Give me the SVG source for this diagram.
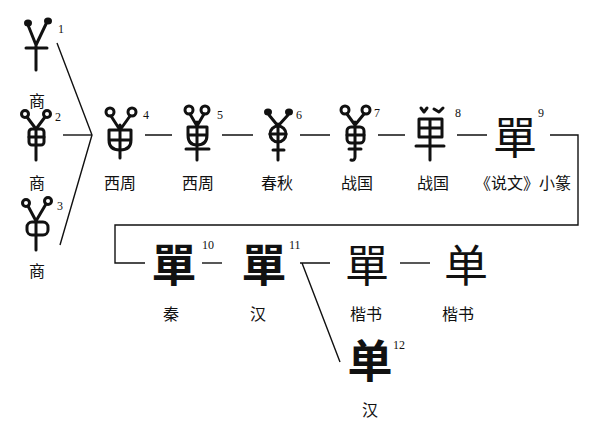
<svg xmlns="http://www.w3.org/2000/svg" width="600" height="428" viewBox="0 0 600 428">
<style>
.lbl{font-family:"Noto Sans CJK SC","Noto Sans CJK JP",sans-serif;font-size:16px;fill:#111;text-anchor:middle}
.num{font-family:"Liberation Serif",serif;font-size:12px;fill:#111}
.big{font-family:"Noto Sans CJK SC","Noto Sans CJK TC",sans-serif;font-size:45px;fill:#111;text-anchor:middle;font-weight:bold}
.big2{font-family:"Noto Sans CJK SC","Noto Sans CJK TC",sans-serif;font-size:44px;fill:#111;text-anchor:middle}
.g{fill:none;stroke:#111;stroke-width:3;stroke-linecap:round;stroke-linejoin:round}
.gf{fill:#111;stroke:none}
.c{fill:none;stroke:#111;stroke-width:1.4}
</style>
<rect width="600" height="428" fill="#fff"/>
<g id="connectors">
<path class="c" d="M57,43 L92,135 L60,245"/>
<path class="c" d="M63,135 H92"/>
<path class="c" d="M145,135 H172 M222,135 H253 M300,135 H330 M378,135 H405 M457,135 H487"/>
<path class="c" d="M550,135 H578 V225 H115 V263 H145"/>
<path class="c" d="M202,263 H222"/>
<path class="c" d="M300,263 H330 M302,263 L340,362"/>
<path class="c" d="M400,263 H430"/>
</g>
<g id="n1">
<ellipse class="gf" cx="28" cy="23" rx="4" ry="3.5"/>
<ellipse class="gf" cx="48" cy="21" rx="4" ry="3.5"/>
<path class="g" d="M28,25 L36,45 L46,24 M36,45 V70 M26,48 H47"/>
<text class="num" x="58" y="33">1</text>
<text class="lbl" x="37" y="107">商</text>
</g>
<g id="n2">
<circle class="g" stroke-width="2" cx="25" cy="114" r="3.5"/>
<circle class="g" stroke-width="2" cx="47" cy="114" r="3.5"/>
<path class="g" d="M27,117 L36,129 L45,117 M36,129 V160"/>
<rect class="g" x="29" y="129" width="15" height="16" rx="3"/>
<path class="g" d="M29,137 H44"/>
<text class="num" x="55" y="121">2</text>
<text class="lbl" x="37" y="189">商</text>
</g>
<g id="n3">
<circle class="g" stroke-width="2" cx="26" cy="203" r="3.5"/>
<circle class="g" stroke-width="2" cx="48" cy="201" r="3.5"/>
<path class="g" d="M28,206 L36,221 L46,204 M36,221 V250"/>
<rect class="g" x="27" y="222" width="21" height="13" rx="5"/>
<text class="num" x="57" y="210">3</text>
<text class="lbl" x="37" y="277">商</text>
</g>
<g id="n4">
<circle class="g" stroke-width="2.5" cx="110" cy="112" r="4"/>
<circle class="g" stroke-width="2.5" cx="132" cy="112" r="4"/>
<path class="g" d="M111,116 L120,130 L130,116 M120,125 V158"/>
<path class="g" d="M109,130 H131 V140 Q131,150 120,150 Q109,150 109,140 Z M109,140 H131"/>
<text class="num" x="143" y="119">4</text>
<text class="lbl" x="120" y="189">西周</text>
</g>
<g id="n5">
<circle class="g" stroke-width="2.5" cx="189" cy="110" r="4"/>
<circle class="g" stroke-width="2.5" cx="205" cy="110" r="4"/>
<path class="g" d="M190,114 L197,126 L204,114 M197,122 V160 M186,149 H209"/>
<path class="g" d="M188,127 H207 V135 Q207,145 197,145 Q188,145 188,135 Z M188,135 H207"/>
<text class="num" x="217" y="119">5</text>
<text class="lbl" x="198" y="189">西周</text>
</g>
<g id="n6">
<ellipse class="gf" cx="268" cy="112" rx="4" ry="3.5"/>
<ellipse class="gf" cx="289" cy="112" rx="4" ry="3.5"/>
<path class="g" d="M269,115 L278,126 L288,115 M278,124 V160 M273,150 H284"/>
<circle class="g" cx="278" cy="134" r="8"/>
<path class="g" d="M270,134 H286"/>
<text class="num" x="296" y="119">6</text>
<text class="lbl" x="277" y="189">春秋</text>
</g>
<g id="n7">
<circle class="g" stroke-width="2.5" cx="345" cy="110" r="4"/>
<circle class="g" stroke-width="2.5" cx="366" cy="110" r="4"/>
<path class="g" d="M347,114 L355,125 L364,114 M355,122 V157 Q355,161 351,160"/>
<rect class="g" x="347" y="127" width="17" height="16" rx="4"/>
<path class="g" d="M347,135 H364 M349,149 H361"/>
<text class="num" x="374" y="117">7</text>
<text class="lbl" x="357" y="189">战国</text>
</g>
<g id="n8">
<path class="g" stroke-width="2.5" d="M421,108 L424,112 M427,108 L424,112 M434,109 L439,112 L443,108"/>
<path class="g" d="M419,119 H442 V137 H419 Z M420,128 H441 M430,119 V160 M416,146 H444"/>
<text class="num" x="455" y="117">8</text>
<text class="lbl" x="433" y="189">战国</text>
</g>
<g id="n9">
<text class="big2" x="515" y="154">單</text>
<text class="num" x="538" y="117">9</text>
<text class="lbl" x="523" y="189">《说文》小篆</text>
</g>
<g id="n10">
<text class="big" x="174" y="282">單</text>
<text class="num" x="202" y="249">10</text>
<text class="lbl" x="171" y="320">秦</text>
</g>
<g id="n11">
<text class="big" x="264" y="282">單</text>
<text class="num" x="289" y="249">11</text>
<text class="lbl" x="258" y="320">汉</text>
</g>
<g id="n13">
<text class="big2" x="367" y="282">單</text>
<text class="lbl" x="366" y="320">楷书</text>
</g>
<g id="n14">
<text class="big2" x="466" y="282">单</text>
<text class="lbl" x="458" y="320">楷书</text>
</g>
<g id="n12">
<text class="big" x="370" y="378">单</text>
<text class="num" x="393" y="349">12</text>
<text class="lbl" x="370" y="416">汉</text>
</g>
</svg>
